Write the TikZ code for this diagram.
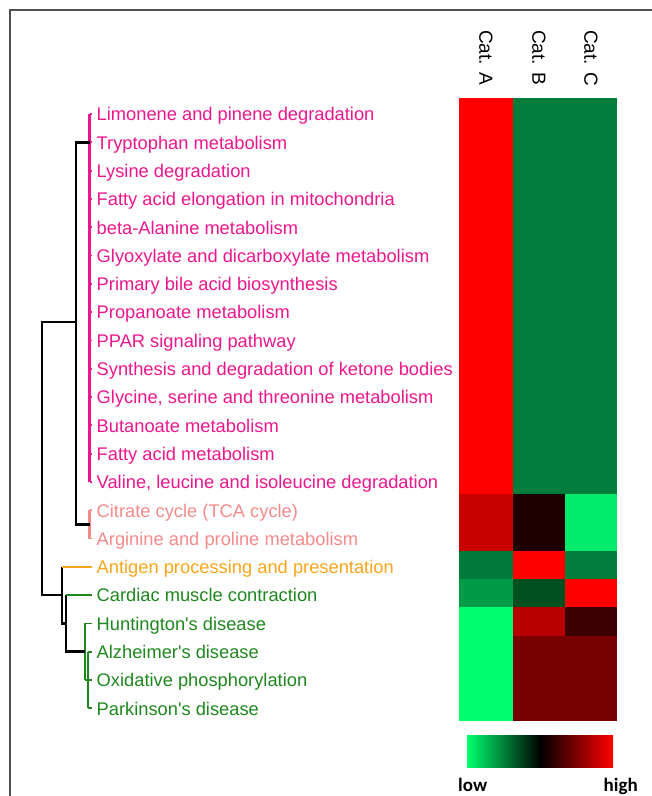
\documentclass[tikz,border=0pt]{standalone}
\usepackage{fontspec}
\setmainfont{Liberation Sans}
\newfontfamily\legendfont{Carlito}
\usepackage{xcolor}
\usetikzlibrary{calc}
\definecolor{framegray}{RGB}{80,80,80}
\definecolor{pathpink}{RGB}{238,22,140}
\definecolor{pathsalmon}{RGB}{245,138,138}
\definecolor{pathorange}{RGB}{250,165,25}
\definecolor{pathgreen}{RGB}{30,135,30}
\definecolor{hmred}{RGB}{255,0,0}
\definecolor{hmdark}{RGB}{0,125,58}
\definecolor{hmcrimson}{RGB}{200,0,0}
\definecolor{hmblack}{RGB}{30,0,0}
\definecolor{hmlime}{RGB}{0,235,105}
\definecolor{hmmid}{RGB}{0,122,58}
\definecolor{hmfair}{RGB}{0,155,72}
\definecolor{hmdeep}{RGB}{0,80,32}
\definecolor{hmbright}{RGB}{0,255,110}
\definecolor{hmbrick}{RGB}{185,0,0}
\definecolor{hmdusk}{RGB}{60,0,0}
\definecolor{hmmaroon}{RGB}{120,0,0}

\begin{document}
\begin{tikzpicture}[x=1pt,y=-1pt,
  rowlab/.style={anchor=base west,inner sep=0pt,font=\fontsize{18.3}{22}\selectfont},
  catlab/.style={anchor=west,inner sep=0pt,rotate=-90,font=\fontsize{19}{22}\selectfont},
  legendlab/.style={inner sep=0pt,font=\legendfont\bfseries\fontsize{19}{22}\selectfont},
  tree/.style={line width=2.5pt},
  tick/.style={line width=1.8pt}]
\useasboundingbox (0,0) rectangle (652,796);
\draw[framegray,line width=2pt] (10,796) -- (10,10) -- (652,10);
% column heads
\node[catlab] (catA) at (486,30) {Cat. A};
\node[catlab] (catB) at (539,30) {Cat. B};
\node[catlab] (catC) at (591,30) {Cat. C};
% pathway names
\foreach \txt/\col [count=\i from 0] in {
  Limonene and pinene degradation/pathpink,
  Tryptophan metabolism/pathpink,
  Lysine degradation/pathpink,
  Fatty acid elongation in mitochondria/pathpink,
  beta-Alanine metabolism/pathpink,
  Glyoxylate and dicarboxylate metabolism/pathpink,
  Primary bile acid biosynthesis/pathpink,
  Propanoate metabolism/pathpink,
  PPAR signaling pathway/pathpink,
  Synthesis and degradation of ketone bodies/pathpink,
  {Glycine, serine and threonine metabolism}/pathpink,
  Butanoate metabolism/pathpink,
  Fatty acid metabolism/pathpink,
  {Valine, leucine and isoleucine degradation}/pathpink,
  Citrate cycle (TCA cycle)/pathsalmon,
  Arginine and proline metabolism/pathsalmon,
  Antigen processing and presentation/pathorange,
  Cardiac muscle contraction/pathgreen,
  Huntington\textquotesingle s disease/pathgreen,
  Alzheimer\textquotesingle s disease/pathgreen,
  Oxidative phosphorylation/pathgreen,
  Parkinson\textquotesingle s disease/pathgreen}
{
  \node[rowlab,text=\col] (row\i) at (96.5,{120.8+28.3*\i}) {\txt};
  \coordinate (leaf\i) at (92,{114+28.3*\i});
}
% heat map
\foreach \ya/\yb/\ca/\cb/\cc in {
  98/494.2/hmred/hmdark/hmdark,
  494.2/550.8/hmcrimson/hmblack/hmlime,
  550.8/579.1/hmmid/hmred/hmdark,
  579.1/607.4/hmfair/hmdeep/hmred,
  607.4/635.7/hmbright/hmbrick/hmdusk,
  635.7/720.6/hmbright/hmmaroon/hmmaroon}
{
  \fill[\ca] (459,\ya) rectangle (513.4,\yb);
  \fill[\cb] (513,\ya) rectangle (565.4,\yb);
  \fill[\cc] (565,\ya) rectangle (617,\yb);
}
% clusters
\draw[tree,pathpink] (89.5,114) -- (89.5,481.9);
\foreach \i in {0,...,13} \draw[tick,pathpink] (leaf\i -| 89.5,0) -- (leaf\i);
\draw[tree,pathsalmon] (89.5,510.2) -- (89.5,538.5);
\foreach \i in {14,15} \draw[tick,pathsalmon] (leaf\i -| 89.5,0) -- (leaf\i);
\draw[tree,pathgreen] (85,623.4) -- (85,680);
\draw[tree,pathgreen] (88,651.7) -- (88,708.3);
\draw[tick,pathgreen] (leaf18 -| 85,0) -- (leaf18);
\draw[tick,pathgreen] (85,680) -- (88,680);
\foreach \i in {19,20,21} \draw[tick,pathgreen] (leaf\i -| 88,0) -- (leaf\i);
% dendrogram
\coordinate (pinkjoin) at (89.5,142.3);
\coordinate (salmonjoin) at (89.5,524.4);
\coordinate (greenjoin) at (85,651.7);
\coordinate (n1) at (76,322);
\coordinate (root) at (42,458);
\coordinate (n2) at (62,595.1);
\coordinate (n3) at (66,623.4);
\draw[tree] (pinkjoin) -| (n1) |- (salmonjoin);
\draw[tree] (n1) -| (root) |- (n2);
\draw[tree] (leaf16 -| n2) -- (n2) |- (n3);
\draw[tree] (leaf17 -| n3) -- (n3) |- (greenjoin);
\draw[tree,pathorange] (leaf16 -| n2) -- (leaf16);
\draw[tree,pathgreen] (leaf17 -| n3) -- (leaf17);
% colour key
\shade[left color=hmbright,right color=black] (467,735) rectangle (540.5,767);
\shade[left color=black,right color=hmred] (540,735) rectangle (613,767);
\node[legendlab,anchor=base west] (low) at (458,791) {low};
\node[legendlab,anchor=base east] (high) at (638,791) {high};
\end{tikzpicture}
\end{document}
